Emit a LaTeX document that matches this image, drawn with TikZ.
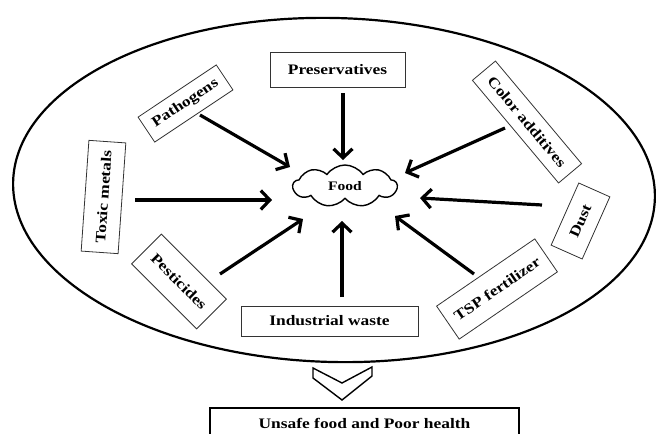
\documentclass[tikz,border=0pt]{standalone}
\usepackage{fontspec}
\setmainfont{Liberation Serif}[FakeStretch=1.2]
\usetikzlibrary{arrows.meta,shapes.symbols}
\begin{document}
\begin{tikzpicture}[x=1pt,y=-1pt,
  lbl/.style={draw=black!80, line width=0.8pt, font=\fontsize{14.5}{16}\selectfont\bfseries, inner sep=0pt, text=black},
  arr/.style={line width=3.2pt, -{Straight Barb[length=9pt,width=19pt]}},
]
\useasboundingbox (0,0) rectangle (657,434);
\clip (0,0) rectangle (657,434);
\draw[line width=2.2pt, rotate around={-1.5:(334,190)}] (334,190) ellipse [x radius=321pt, y radius=172pt];

\node[lbl, minimum width=135pt, minimum height=35pt] (pres) at (337.5,69.5) {Preservatives};
\node[lbl, minimum width=94pt, minimum height=30pt, rotate=33.7] (path) at (185.5,103.5) {Pathogens};
\node[lbl, minimum width=111pt, minimum height=37pt, rotate=86] (toxic) at (103.5,197) {Toxic metals};
\node[lbl, minimum width=92pt, minimum height=42pt, rotate=-45] (pest) at (179,281.5) {Pesticides};
\node[lbl, minimum width=177pt, minimum height=30pt] (ind) at (329.5,321) {Industrial waste};
\node[lbl, minimum width=119pt, minimum height=40pt, rotate=34.4] (tsp) at (497,289) {TSP fertilizer};
\node[lbl, minimum width=68pt, minimum height=34pt, rotate=66] (dust) at (580.5,221) {Dust};
\node[lbl, minimum width=134pt, minimum height=30pt, rotate=-50] (color) at (527,122) {Color additives};

\node[cloud, draw, line width=1.4pt, cloud puffs=9, cloud puff arc=110, aspect=2.6,
      minimum width=104pt, minimum height=42pt, inner sep=0pt,
      font=\fontsize{13}{15}\selectfont\bfseries] (food) at (345,186) {Food};

\node[draw, line width=2.2pt, anchor=north, minimum width=309pt, minimum height=30pt, inner sep=0pt,
      font=\fontsize{14.5}{16}\selectfont\bfseries] (unsafe) at (364.5,407) {Unsafe food and Poor health};

\draw[line width=1.4pt, line join=miter] (313,368) -- (342,383) -- (372,367) -- (372,376) -- (342,400) -- (313,378) -- cycle;

\coordinate (s1) at (200,115); \coordinate (e1) at (290,167);
\coordinate (s2) at (343,93);  \coordinate (e2) at (343,160);
\coordinate (s3) at (505,128); \coordinate (e3) at (405,173);
\coordinate (s4) at (135,200); \coordinate (e4) at (272,200);
\coordinate (s5) at (542,205); \coordinate (e5) at (420,198);
\coordinate (s6) at (220,274); \coordinate (e6) at (303,219);
\coordinate (s7) at (342,297); \coordinate (e7) at (342,221);
\coordinate (s8) at (474,274); \coordinate (e8) at (395,216);
\foreach \i in {1,...,8} \draw[arr] (s\i) -- (e\i);
\end{tikzpicture}
\end{document}
